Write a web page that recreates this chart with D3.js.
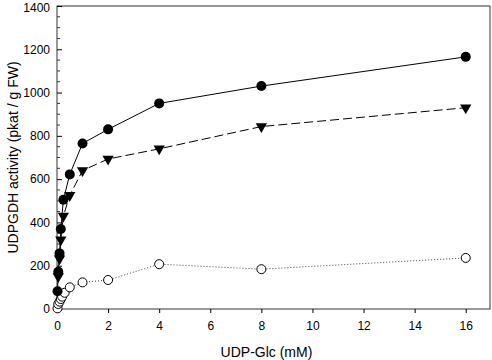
<!DOCTYPE html>
<html>
<head>
<meta charset="utf-8">
<script src="https://cdn.jsdelivr.net/npm/d3@7"></script>
<style>
  body { margin: 0; background: #fff; }
  svg { display: block; font-family: 'Liberation Sans', Arial, sans-serif; }
</style>
</head>
<body>
<div id="chart"></div>
<script>
// UDP-Glc concentration (mM) and activity (pkat / g FW), one set per series
const filledX = [0.02, 0.05, 0.1, 0.15, 0.25, 0.5, 1, 2, 4, 8, 16];
const filledY = [82, 172, 257, 370, 505, 622, 765, 830, 950, 1030, 1165];

const triX = [0.05, 0.1, 0.15, 0.25, 0.5, 1, 2, 4, 8, 16];
const triY = [150, 232, 320, 430, 525, 640, 693, 740, 843, 930];

const openX = [0.02, 0.05, 0.1, 0.15, 0.2, 0.3, 0.5, 1, 2, 4, 8, 16];
const openY = [3, 23, 34, 46, 57, 75, 100, 123, 134, 207, 184, 236];

const xTicks = [0, 2, 4, 6, 8, 10, 12, 14, 16];
const yTicks = [0, 200, 400, 600, 800, 1000, 1200, 1400];
const yMinor = d3.range(0, 1401, 50);

const W = 492, H = 360;
const M = { top: 6, right: 2, bottom: 51, left: 57 };
const innerW = W - M.left - M.right;
const innerH = H - M.top - M.bottom;

const svg = d3.select('#chart').append('svg').attr('width', W).attr('height', H);
const g = svg.append('g').attr('transform', `translate(${M.left},${M.top})`);

const x = d3.scaleLinear().domain([0, 16.95]).range([0, innerW]);
const y = d3.scaleLinear().domain([0, 1400]).range([innerH, 0]);

// frame
g.append('rect')
  .attr('width', innerW).attr('height', innerH)
  .attr('fill', 'none').attr('stroke', '#333').attr('stroke-width', 1);

// x axis
const xAxis = g.append('g')
  .attr('transform', `translate(0,${innerH})`)
  .call(d3.axisBottom(x).tickValues(xTicks).tickSize(4).tickPadding(8).tickFormat(d3.format('d')));
xAxis.select('.domain').remove();
xAxis.selectAll('text').attr('font-size', 12).attr('fill', '#000').attr('font-family', 'Liberation Sans, Arial, sans-serif');

// y minor ticks (inside)
g.append('g').selectAll('line').data(yMinor.filter(v => v % 200 !== 0)).join('line')
  .attr('x1', 0).attr('x2', 3)
  .attr('y1', d => y(d)).attr('y2', d => y(d))
  .attr('stroke', '#333');

// y axis, major ticks inside
const yAxis = g.append('g')
  .call(d3.axisLeft(y).tickValues(yTicks).tickSize(-5).tickPadding(7).tickFormat(d3.format('d')));
yAxis.select('.domain').remove();
yAxis.selectAll('text').attr('font-size', 12).attr('fill', '#000').attr('font-family', 'Liberation Sans, Arial, sans-serif');
yAxis.selectAll('text').filter(d => d === 1400).attr('dy', '0.45em');

// axis titles
svg.append('text')
  .attr('x', M.left + x(8.2)).attr('y', 357)
  .attr('text-anchor', 'middle').attr('font-size', 14)
  .text('UDP-Glc (mM)');

svg.append('text')
  .attr('transform', `translate(18,${M.top + y(700)}) rotate(-90)`)
  .attr('text-anchor', 'middle').attr('font-size', 14)
  .text('UDPGDH activity (pkat / g FW)');

const line = d3.line().x(d => x(d[0])).y(d => y(d[1]));
const pts = (xs, ys) => xs.map((v, i) => [v, ys[i]]);

const filled = pts(filledX, filledY);
const tri = pts(triX, triY);
const open = pts(openX, openY);

g.append('path').datum(open).attr('d', line)
  .attr('fill', 'none').attr('stroke', '#444').attr('stroke-width', 1).attr('stroke-dasharray', '1 2');
g.append('path').datum(tri).attr('d', line)
  .attr('fill', 'none').attr('stroke', '#000').attr('stroke-width', 1).attr('stroke-dasharray', '9 4');
g.append('path').datum(filled).attr('d', line)
  .attr('fill', 'none').attr('stroke', '#000').attr('stroke-width', 1);

g.append('g').selectAll('circle').data(open).join('circle')
  .attr('cx', d => x(d[0])).attr('cy', d => y(d[1])).attr('r', 4.5)
  .attr('fill', '#fff').attr('stroke', '#000').attr('stroke-width', 1);

const triSym = d3.symbol().type(d3.symbolTriangle).size(55);
g.append('g').selectAll('path').data(tri).join('path')
  .attr('d', triSym)
  .attr('transform', d => `translate(${x(d[0])},${y(d[1])}) rotate(180)`)
  .attr('fill', '#000');

g.append('g').selectAll('circle').data(filled).join('circle')
  .attr('cx', d => x(d[0])).attr('cy', d => y(d[1])).attr('r', 5)
  .attr('fill', '#000');
</script>
</body>
</html>
